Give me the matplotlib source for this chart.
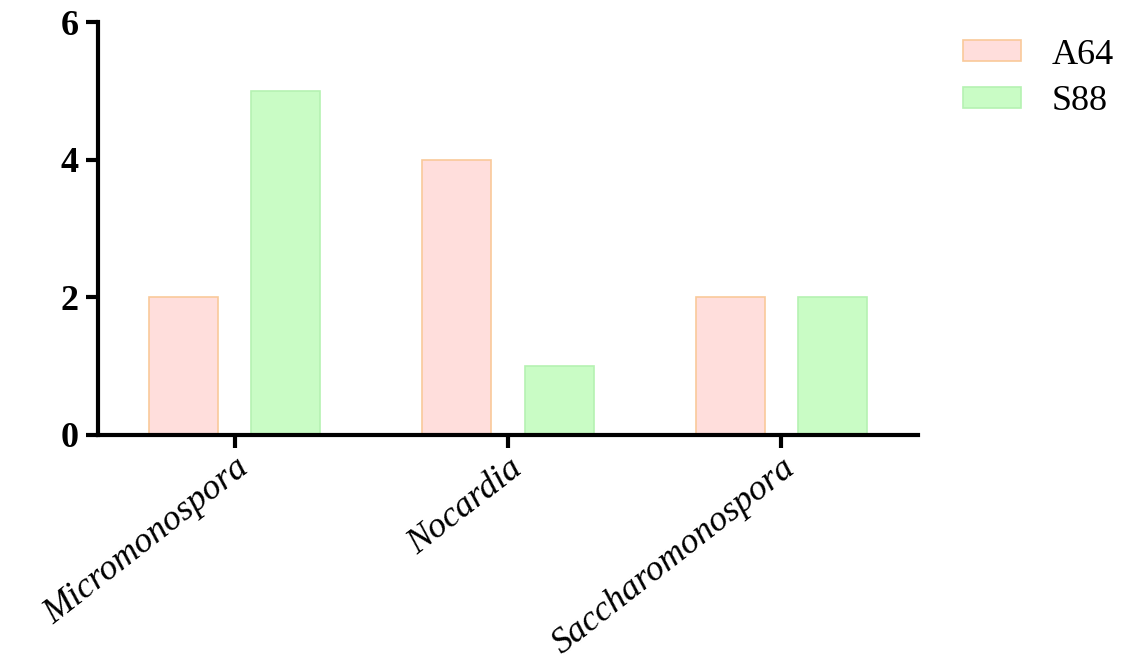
import numpy as np
import matplotlib
matplotlib.use("Agg")
import matplotlib.pyplot as plt

# data
genera = ["Micromonospora", "Nocardia", "Saccharomonospora"]
a64 = [2, 4, 2]
s88 = [5, 1, 2]
series_names = ["A64", "S88"]
yticks = [0, 2, 4, 6]

plt.rcParams['font.family'] = 'serif'
plt.rcParams['font.serif'] = ['Liberation Serif', 'DejaVu Serif']

fig = plt.figure(figsize=(11.39, 6.68), dpi=100)
ax = fig.add_axes([0.086, 0.349, 0.72, 0.618])

x = np.arange(len(genera))
w = 0.253
off = 0.187
ax.bar(x - off, a64, w, color="#FFDEDC", edgecolor="#F9C99A", linewidth=1.2, label=series_names[0])
ax.bar(x + off, s88, w, color="#C9FCC5", edgecolor="#B5F2B2", linewidth=1.2, label=series_names[1])

ax.set_xlim(-0.5, 2.5)
ax.set_ylim(0, 6)
ax.set_yticks(yticks)
ax.set_yticklabels([str(v) for v in yticks], fontsize=26, fontweight='bold')
ax.set_xticks(x)
ax.set_xticklabels(genera, fontsize=26, style='italic', rotation=38,
                   ha='right', rotation_mode='anchor')

for s in ['top', 'right']:
    ax.spines[s].set_visible(False)
for s in ['left', 'bottom']:
    ax.spines[s].set_linewidth(3)
ax.tick_params(axis='both', direction='out', width=3, length=9, pad=3)
ax.tick_params(axis='y', pad=5)

leg = fig.legend(loc='upper left', bbox_to_anchor=(0.817, 0.991), frameon=False,
                 fontsize=26, handlelength=1.6, handleheight=0.5, labelspacing=0.38,
                 handletextpad=0.85)

fig.savefig("out.png", dpi=100)
